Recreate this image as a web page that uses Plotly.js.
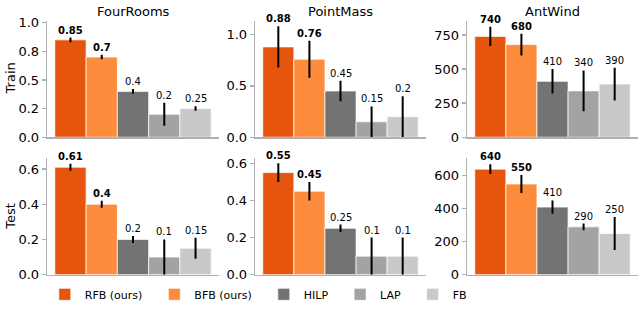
<!DOCTYPE html>
<html>
<head>
<meta charset="utf-8">
<script src="https://cdn.plot.ly/plotly-3.0.1.min.js"></script>
<style>html,body{margin:0;padding:0;background:#fff;}#chart{width:640px;height:309px;}</style>
</head>
<body>
<div id="chart"></div>
<script>
const methods = ['RFB (ours)', 'BFB (ours)', 'HILP', 'LAP', 'FB'];
const methodColors = ['#e6550d', '#fd8d3c', '#737373', '#a3a3a3', '#c9c9c9'];
const envs = ['FourRooms', 'PointMass', 'AntWind'];
const rowNames = ['Train', 'Test'];

const trainFourRooms = [0.85, 0.7, 0.4, 0.2, 0.25];
const trainFourRoomsErr = [0.02, 0.02, 0.02, 0.1, 0.02];
const trainPointMass = [0.88, 0.76, 0.45, 0.15, 0.2];
const trainPointMassErr = [0.2, 0.18, 0.1, 0.15, 0.2];
const trainAntWind = [740, 680, 410, 340, 390];
const trainAntWindErr = [70, 80, 90, 150, 120];

const testFourRooms = [0.61, 0.4, 0.2, 0.1, 0.15];
const testFourRoomsErr = [0.02, 0.02, 0.02, 0.1, 0.06];
const testPointMass = [0.55, 0.45, 0.25, 0.1, 0.1];
const testPointMassErr = [0.05, 0.05, 0.02, 0.1, 0.1];
const testAntWind = [640, 550, 410, 290, 250];
const testAntWindErr = [30, 55, 40, 20, 100];

const tickValsTrain = [[0, 0.25, 0.5, 0.75, 1.0], [0, 0.5, 1.0], [0, 250, 500, 750]];
const tickTextTrain = [['0.0', '0.2', '0.5', '0.8', '1.0'], ['0.0', '0.5', '1.0'], ['0', '250', '500', '750']];
const tickValsTest = [[0, 0.2, 0.4, 0.6], [0, 0.2, 0.4, 0.6], [0, 200, 400, 600]];
const tickTextTest = [['0.0', '0.2', '0.4', '0.6'], ['0.0', '0.2', '0.4', '0.6'], ['0', '200', '400', '600']];

const panels = [
  {row: 0, col: 0, vals: trainFourRooms, errs: trainFourRoomsErr, range: [0, 1.017]},
  {row: 0, col: 1, vals: trainPointMass, errs: trainPointMassErr, range: [0, 1.135]},
  {row: 0, col: 2, vals: trainAntWind, errs: trainAntWindErr, range: [0, 855]},
  {row: 1, col: 0, vals: testFourRooms, errs: testFourRoomsErr, range: [0, 0.663]},
  {row: 1, col: 1, vals: testPointMass, errs: testPointMassErr, range: [0, 0.629]},
  {row: 1, col: 2, vals: testAntWind, errs: testAntWindErr, range: [0, 708]}
];

const W = 640, H = 309;
const xDom = [[47, 219], [255, 426], [467, 638]].map(d => [d[0] / W, d[1] / W]);
const yDom = [[139, 21], [278.3, 160]].map(d => [(H - d[0]) / H, (H - d[1]) / H]);

const font = 'DejaVu Sans, sans-serif';
const spine = '#b0b0b0';
const traces = [];
const annotations = [];
const layout = {
  width: W, height: H,
  margin: {l: 0, r: 0, t: 0, b: 0},
  paper_bgcolor: '#fff', plot_bgcolor: '#fff',
  font: {family: font, color: '#000'},
  showlegend: true,
  barmode: 'overlay',
  legend: {
    orientation: 'h', x: 0.07, xanchor: 'left', y: 0.035, yanchor: 'middle',
    font: {size: 11, family: font, color: '#000'},
    traceorder: 'normal', bgcolor: 'rgba(0,0,0,0)'
  }
};

panels.forEach((p, k) => {
  const idx = k + 1;
  const xa = 'x' + (idx === 1 ? '' : idx);
  const ya = 'y' + (idx === 1 ? '' : idx);
  methods.forEach((m, i) => {
    traces.push({
      type: 'bar', x: [i], y: [p.vals[i]], width: 1,
      xaxis: xa, yaxis: ya, name: m + '\u00a0\u00a0', legendgroup: m,
      showlegend: k === 0,
      marker: {color: methodColors[i], line: {color: 'rgba(255,255,255,0.7)', width: 1}},
      error_y: {type: 'data', array: [p.errs[i]], visible: true, color: '#000', thickness: 2, width: 0},
      hoverinfo: 'skip'
    });
    annotations.push({
      xref: xa, yref: ya, x: i, y: p.vals[i] + p.errs[i],
      text: i < 2 ? '<b>' + p.vals[i] + '</b>' : String(p.vals[i]),
      showarrow: false, yanchor: 'bottom', xanchor: 'center',
      font: {size: 10, family: font, color: '#000'}
    });
  });
  layout['xaxis' + (idx === 1 ? '' : idx)] = {
    domain: xDom[p.col], anchor: ya, range: [-0.75, 4.75],
    showticklabels: false, ticks: '', showgrid: false, zeroline: false,
    showline: true, linecolor: spine, linewidth: 1.3, fixedrange: true
  };
  layout['yaxis' + (idx === 1 ? '' : idx)] = {
    domain: yDom[p.row], anchor: xa, range: p.range,
    tickvals: p.row === 0 ? tickValsTrain[p.col] : tickValsTest[p.col],
    ticktext: p.row === 0 ? tickTextTrain[p.col] : tickTextTest[p.col],
    ticks: 'outside', ticklen: 4, tickwidth: 1.3, tickcolor: spine,
    tickfont: {size: 13, family: font, color: '#000'},
    showgrid: false, zeroline: false,
    showline: true, linecolor: spine, linewidth: 1.3, fixedrange: true
  };
});

envs.forEach((e, c) => {
  annotations.push({
    xref: 'paper', yref: 'paper', x: (xDom[c][0] + xDom[c][1]) / 2, y: (H - 2) / H,
    text: e, showarrow: false, xanchor: 'center', yanchor: 'top',
    font: {size: 13, family: font, color: '#000'}
  });
});
rowNames.forEach((r, rI) => {
  annotations.push({
    xref: 'paper', yref: 'paper', x: 1 / W, y: (yDom[rI][0] + yDom[rI][1]) / 2,
    text: r, showarrow: false, xanchor: 'left', yanchor: 'middle', textangle: -90,
    font: {size: 13, family: font, color: '#000'}
  });
});
layout.annotations = annotations;

Plotly.newPlot('chart', traces, layout, {staticPlot: true, displayModeBar: false});
</script>
</body>
</html>
